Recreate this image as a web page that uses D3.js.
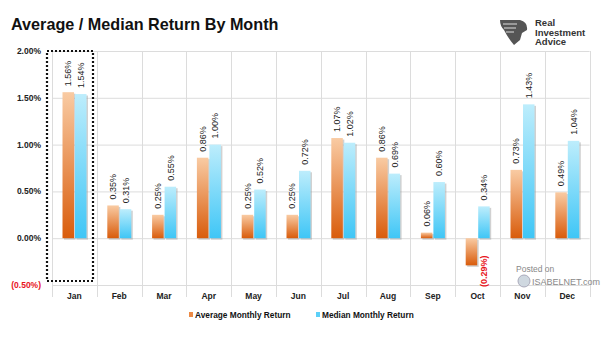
<!DOCTYPE html>
<html><head><meta charset="utf-8">
<script src="https://cdn.jsdelivr.net/npm/d3@7"></script>
<style>body{margin:0;background:#fff}svg{display:block;font-family:"Liberation Sans",Arial,sans-serif}</style>
</head><body><svg id="c" width="605" height="341"></svg>
<script>
const months = ["Jan","Feb","Mar","Apr","May","Jun","Jul","Aug","Sep","Oct","Nov","Dec"];
const avgReturn = [1.56,0.35,0.25,0.86,0.25,0.25,1.07,0.86,0.06,-0.29,0.73,0.49];
const medianReturn = [1.54,0.31,0.55,1.00,0.52,0.72,1.02,0.69,0.60,0.34,1.43,1.04];
const yTicks = [-0.5,0,0.5,1.0,1.5,2.0];
const seriesNames = ["Average Monthly Return","Median Monthly Return"];

const svg = d3.select("#c");
const L=52,R=589.6,T=51,B=285;
const x = d3.scaleBand().domain(months).range([L,R]).padding(0);
const sub = d3.scaleBand().domain([0,1]).range([10.5,34.5]).paddingInner(0.08);
const y = d3.scaleLinear().domain([-0.5,2.0]).range([B,T]);

const defs = svg.append("defs");
const g1 = defs.append("linearGradient").attr("id","gA").attr("x1",0).attr("y1",0).attr("x2",0).attr("y2",1);
g1.append("stop").attr("offset","0%").attr("stop-color","#f9cba3");
g1.append("stop").attr("offset","100%").attr("stop-color","#d95c0c");
const g2 = defs.append("linearGradient").attr("id","gM").attr("x1",0).attr("y1",0).attr("x2",0).attr("y2",1);
g2.append("stop").attr("offset","0%").attr("stop-color","#bdedfc");
g2.append("stop").attr("offset","100%").attr("stop-color","#3fc6f6");

// title
svg.append("text").attr("x",11).attr("y",30).attr("font-size",16.2).attr("font-weight","bold").attr("fill","#111").text("Average / Median Return By Month");

// gridlines
svg.append("g").selectAll("line").data(yTicks).join("line")
  .attr("x1",L).attr("x2",R).attr("y1",d=>y(d)+0.5).attr("y2",d=>y(d)+0.5).attr("stroke","#dcdcdc").attr("stroke-width",1);
const bounds = months.map(m=>x(m)).concat([R]);
svg.append("g").selectAll("line").data(bounds).join("line")
  .attr("x1",d=>Math.round(d)+0.5).attr("x2",d=>Math.round(d)+0.5).attr("y1",T).attr("y2",B+12).attr("stroke","#dcdcdc");

// y labels
svg.append("g").selectAll("text").data(yTicks).join("text")
  .attr("x",41).attr("y",d=>y(d)+3).attr("text-anchor","end").attr("font-size",8.5).attr("font-weight","bold")
  .attr("fill",d=>d<0?"#e8141c":"#222")
  .text(d=>d<0?"("+Math.abs(d).toFixed(2)+"%)":d.toFixed(2)+"%");

// x labels
svg.append("g").selectAll("text").data(months).join("text")
  .attr("x",d=>x(d)+x.bandwidth()/2).attr("y",299).attr("text-anchor","middle").attr("font-size",8.5).attr("font-weight","bold").attr("fill","#222").text(d=>d);

// bars
const bars = [];
months.forEach((m,i)=>{
  bars.push({m,s:0,v:avgReturn[i]});
  bars.push({m,s:1,v:medianReturn[i]});
});
const bw = sub.bandwidth();
// shadows
svg.append("g").selectAll("rect").data(bars).join("rect")
  .attr("x",d=>x(d.m)+sub(d.s)+1.5).attr("y",d=>Math.min(y(d.v),y(0))+1.5)
  .attr("width",bw).attr("height",d=>Math.abs(y(d.v)-y(0)))
  .attr("fill","#9a9a9a").attr("opacity",0.45);
svg.append("g").selectAll("rect").data(bars).join("rect")
  .attr("x",d=>x(d.m)+sub(d.s)).attr("y",d=>Math.min(y(d.v),y(0)))
  .attr("width",bw).attr("height",d=>Math.abs(y(d.v)-y(0)))
  .attr("fill",d=>d.s===0?"url(#gA)":"url(#gM)");

// value labels
svg.append("g").selectAll("text").data(bars).join("text")
  .attr("transform",d=>{
    if (d.v>=0) {
      const cx = x(d.m)+sub(d.s)+bw/2+3.2;
      return `translate(${cx},${y(d.v)-6}) rotate(-90)`;
    }
    const cx = x(d.m)+sub(1)+bw/2+3.2;
    return `translate(${cx},${B+2}) rotate(-90)`;
  })
  .attr("text-anchor","start")
  .attr("font-size",9).attr("fill",d=>d.v<0?"#e8141c":"#222").attr("font-weight",d=>d.v<0?"bold":"normal")
  .text(d=>d.v<0?"("+Math.abs(d.v).toFixed(2)+"%)":d.v.toFixed(2)+"%");

// dotted highlight around Jan
svg.append("rect").attr("x",47).attr("y",51).attr("width",46).attr("height",230)
  .attr("fill","none").attr("stroke","#111").attr("stroke-width",2.2).attr("stroke-dasharray","2,2");

// legend
const leg = svg.append("g");
const legX = [189,316];
seriesNames.forEach((n,i)=>{
  leg.append("rect").attr("x",legX[i]).attr("y",312).attr("width",4).attr("height",5).attr("fill",i===0?"#ec8a45":"#5cd0f8");
  leg.append("text").attr("x",legX[i]+6).attr("y",318).attr("font-size",8.3).attr("font-weight","bold").attr("fill","#111").text(n);
});

// logo
const logo = svg.append("g");
logo.append("path").attr("d","M500,20 L520,20 Q528,22 527,30 L522,33 L520,40 L514,45 Q508,38 504,30 Q500,26 500,20 Z").attr("fill","#555");
logo.append("path").attr("d","M503,24 L517,24 M504,28 L516,28 M506,32 L514,32").attr("stroke","#ddd").attr("stroke-width",1.2);
["Real","Investment","Advice"].forEach((t,i)=>{
  logo.append("text").attr("x",535).attr("y",26+i*9.5).attr("font-size",9.5).attr("font-weight","bold").attr("fill","#333").text(t);
});

// watermark
svg.append("text").attr("x",516).attr("y",272).attr("font-size",8.5).attr("fill","#888").text("Posted on");
svg.append("circle").attr("cx",524).attr("cy",281).attr("r",6).attr("fill","#cfd8e0").attr("stroke","#aab");
svg.append("text").attr("x",532).attr("y",285).attr("font-size",9).attr("fill","#888").text("ISABELNET.com");
</script></body></html>
